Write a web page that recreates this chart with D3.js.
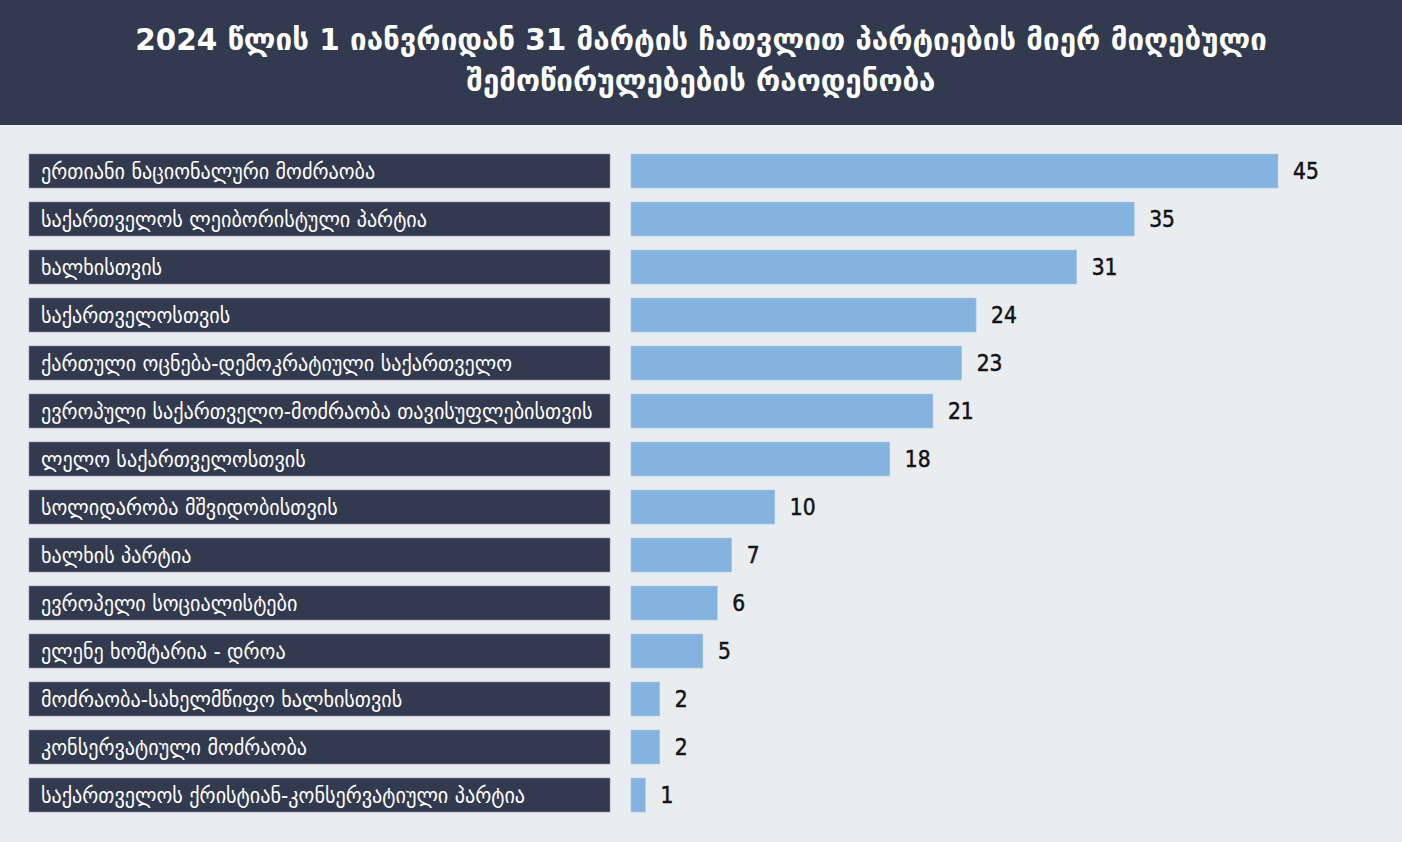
<!DOCTYPE html>
<html>
<head>
<meta charset="utf-8">
<script src="https://cdn.jsdelivr.net/npm/d3@7"></script>
<style>
  body { margin: 0; background: #e9edf0; }
  svg { display: block; }
</style>
</head>
<body>
<div class="chart"></div>
<script>
// data
var titleLines = [
  "2024 წლის 1 იანვრიდან 31 მარტის ჩათვლით პარტიების მიერ მიღებული",
  "შემოწირულებების რაოდენობა"
];
var parties = [
  "ერთიანი ნაციონალური მოძრაობა",
  "საქართველოს ლეიბორისტული პარტია",
  "ხალხისთვის",
  "საქართველოსთვის",
  "ქართული ოცნება-დემოკრატიული საქართველო",
  "ევროპული საქართველო-მოძრაობა თავისუფლებისთვის",
  "ლელო საქართველოსთვის",
  "სოლიდარობა მშვიდობისთვის",
  "ხალხის პარტია",
  "ევროპელი სოციალისტები",
  "ელენე ხოშტარია - დროა",
  "მოძრაობა-სახელმწიფო ხალხისთვის",
  "კონსერვატიული მოძრაობა",
  "საქართველოს ქრისტიან-კონსერვატიული პარტია"
];
var donations = [45, 35, 31, 24, 23, 21, 18, 10, 7, 6, 5, 2, 2, 1];

var svgWidth = 1402;
var svgHeight = 842;

var svg = d3.select(".chart")
  .append("svg")
  .attr("width", svgWidth)
  .attr("height", svgHeight);

// header band
svg.append("rect")
  .attr("width", svgWidth)
  .attr("height", 125)
  .attr("fill", "#323a4f");

svg.selectAll("text.title")
  .data(titleLines)
  .enter()
  .append("text")
  .attr("class", "title")
  .attr("x", svgWidth / 2)
  .attr("y", (d, i) => 50 + i * 41)
  .attr("text-anchor", "middle")
  .attr("fill", "#ffffff")
  .attr("font-family", "DejaVu Sans, sans-serif")
  .attr("font-weight", "bold")
  .attr("font-size", 29.5)
  .text(d => d);

// row scale: 34px boxes on a 48px pitch
var yScale = d3.scaleBand()
  .domain(parties)
  .range([154, 812])
  .paddingInner(14 / 48)
  .paddingOuter(0)
  .align(0);

var barLeft = 631;
var xScale = d3.scaleLinear()
  .domain([0, 45])
  .range([0, 647]);

var rows = svg.selectAll("g.row")
  .data(parties)
  .enter()
  .append("g")
  .attr("class", "row")
  .attr("transform", d => `translate(0, ${yScale(d)})`);

// label boxes
rows.append("rect")
  .attr("x", 29)
  .attr("width", 581)
  .attr("height", yScale.bandwidth())
  .attr("fill", "#323a4f")
  .attr("stroke", "#8a91a0")
  .attr("stroke-width", 0.6);

rows.append("text")
  .attr("x", 41)
  .attr("y", yScale.bandwidth() / 2)
  .attr("dy", "0.36em")
  .attr("fill", "#ffffff")
  .attr("font-family", "DejaVu Sans Condensed, DejaVu Sans, sans-serif")
  .attr("font-size", 22.4)
  .text(d => d);

// bars
rows.append("rect")
  .attr("x", barLeft)
  .attr("width", (d, i) => xScale(donations[i]))
  .attr("height", yScale.bandwidth())
  .attr("fill", "#84b3e0")
  .attr("stroke", "#a9c9e8")
  .attr("stroke-width", 0.6);

// value labels (thin stroke gives a medium weight)
rows.append("text")
  .attr("x", (d, i) => barLeft + xScale(donations[i]) + 15)
  .attr("y", yScale.bandwidth() / 2)
  .attr("dy", "0.36em")
  .attr("fill", "#111418")
  .attr("stroke", "#111418")
  .attr("stroke-width", 0.5)
  .attr("font-family", "DejaVu Sans Condensed, DejaVu Sans, sans-serif")
  .attr("font-size", 22.5)
  .text((d, i) => donations[i]);
</script>
</body>
</html>
